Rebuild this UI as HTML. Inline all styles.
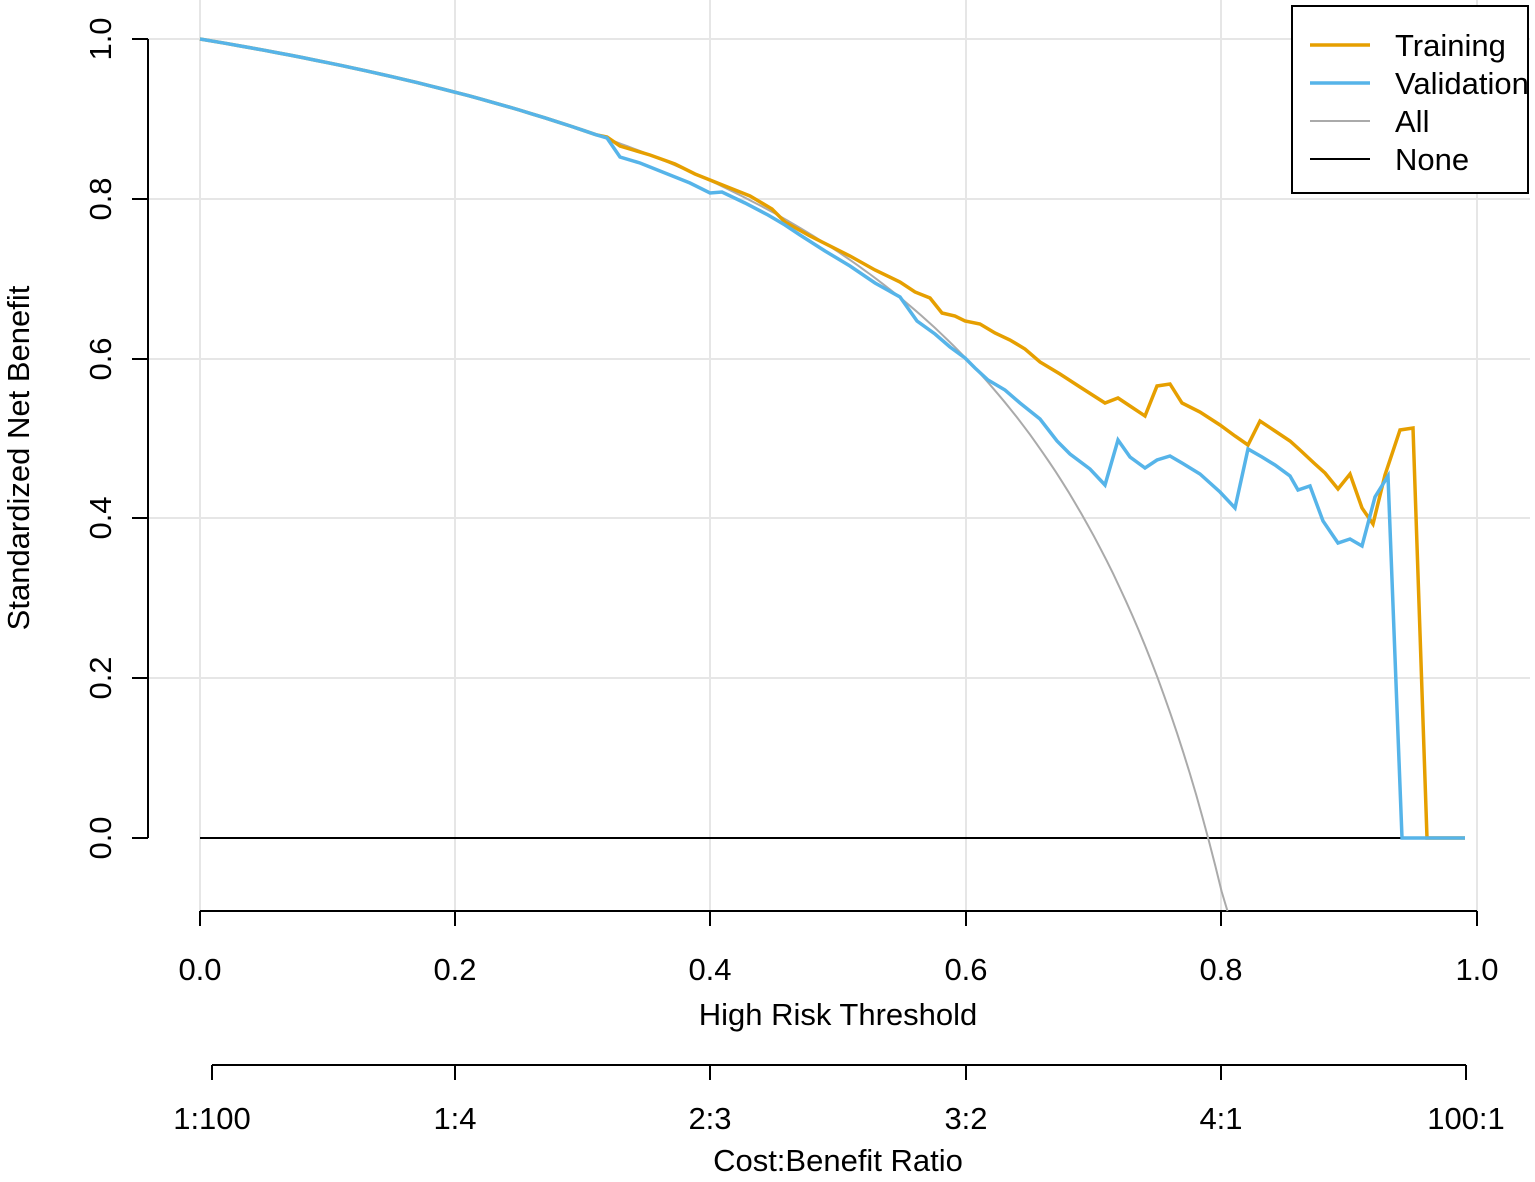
<!DOCTYPE html>
<html><head><meta charset="utf-8"><style>
body{margin:0;background:#fff}
svg text{font-family:"Liberation Sans",Arial,sans-serif;font-size:31px;fill:#000}
</style></head><body>
<svg id="s" width="1535" height="1177" xmlns="http://www.w3.org/2000/svg">
<g stroke="#e6e6e6" stroke-width="2">
<line x1="148" x2="1530" y1="39" y2="39"/><line x1="148" x2="1530" y1="199" y2="199"/>
<line x1="148" x2="1530" y1="359" y2="359"/><line x1="148" x2="1530" y1="518" y2="518"/>
<line x1="148" x2="1530" y1="678" y2="678"/>
<line x1="200" x2="200" y1="0" y2="911"/><line x1="455" x2="455" y1="0" y2="911"/>
<line x1="710" x2="710" y1="0" y2="911"/><line x1="966" x2="966" y1="0" y2="911"/>
<line x1="1221" x2="1221" y1="0" y2="911"/><line x1="1477" x2="1477" y1="0" y2="911"/>
</g>
<g stroke="#000" stroke-width="2" fill="none">
<line x1="148" x2="148" y1="39" y2="838"/>
<line x1="132" x2="148" y1="39" y2="39"/><line x1="132" x2="148" y1="199" y2="199"/>
<line x1="132" x2="148" y1="359" y2="359"/><line x1="132" x2="148" y1="518" y2="518"/>
<line x1="132" x2="148" y1="678" y2="678"/><line x1="132" x2="148" y1="838" y2="838"/>
<line x1="200" x2="1477" y1="911" y2="911"/>
<line x1="200" x2="200" y1="911" y2="926"/><line x1="455" x2="455" y1="911" y2="926"/>
<line x1="710" x2="710" y1="911" y2="926"/><line x1="966" x2="966" y1="911" y2="926"/>
<line x1="1221" x2="1221" y1="911" y2="926"/><line x1="1477" x2="1477" y1="911" y2="926"/>
<line x1="212" x2="1466" y1="1065" y2="1065"/>
<line x1="212" x2="212" y1="1065" y2="1080"/><line x1="455" x2="455" y1="1065" y2="1080"/>
<line x1="710" x2="710" y1="1065" y2="1080"/><line x1="966" x2="966" y1="1065" y2="1080"/>
<line x1="1221" x2="1221" y1="1065" y2="1080"/><line x1="1466" x2="1466" y1="1065" y2="1080"/>
<line x1="200" x2="1465" y1="838" y2="838"/>
</g>
<polyline id="all" fill="none" stroke="#aaaaaa" stroke-width="2"/>
<polyline id="tr" fill="none" stroke="#E69F00" stroke-width="3.5"/>
<polyline id="va" fill="none" stroke="#56B4E9" stroke-width="3.5"/>
<g text-anchor="middle">
<text transform="translate(111,39) rotate(-90)">1.0</text>
<text transform="translate(111,199) rotate(-90)">0.8</text>
<text transform="translate(111,359) rotate(-90)">0.6</text>
<text transform="translate(111,518) rotate(-90)">0.4</text>
<text transform="translate(111,678) rotate(-90)">0.2</text>
<text transform="translate(111,838) rotate(-90)">0.0</text>
<text transform="translate(29,458) rotate(-90)">Standardized Net Benefit</text>
<text x="200" y="980">0.0</text><text x="455" y="980">0.2</text><text x="710" y="980">0.4</text>
<text x="966" y="980">0.6</text><text x="1221" y="980">0.8</text><text x="1477" y="980">1.0</text>
<text x="838" y="1025">High Risk Threshold</text>
<text x="212" y="1129">1:100</text><text x="455" y="1129">1:4</text><text x="710" y="1129">2:3</text>
<text x="966" y="1129">3:2</text><text x="1221" y="1129">4:1</text><text x="1466" y="1129">100:1</text>
<text x="838" y="1171">Cost:Benefit Ratio</text>
</g>
<rect x="1292" y="6" width="236" height="187" fill="#fff" stroke="#000" stroke-width="2"/>
<line x1="1310" x2="1370" y1="45" y2="45" stroke="#E69F00" stroke-width="3.5"/>
<line x1="1310" x2="1370" y1="83" y2="83" stroke="#56B4E9" stroke-width="3.5"/>
<line x1="1310" x2="1370" y1="121" y2="121" stroke="#aaaaaa" stroke-width="2"/>
<line x1="1310" x2="1370" y1="159" y2="159" stroke="#000" stroke-width="2"/>
<text x="1395" y="56">Training</text><text x="1395" y="94">Validation</text>
<text x="1395" y="132">All</text><text x="1395" y="170">None</text>
</svg>
<script>
var k=0.2667;function Y(t){return 838-799*(1-k*t/(1-t));}function X(t){return 200+1277*t;}
var a=[];for(var t=0;t<=0.806;t+=0.005){var y=Y(t);if(y>911){a.push(X(0.8046)+","+911);break;}a.push(X(t).toFixed(1)+","+y.toFixed(1));}
document.getElementById('all').setAttribute('points',a.join(' '));
var base=[];for(var t=0;t<0.32;t+=0.01)base.push(X(t).toFixed(1)+","+Y(t).toFixed(1));
var tr="607,137 620,146 650,155 675,164 695,174 710,180 730,188 750,196 772,209 785,222 810,236 850,256 875,270 900,282 915,292 930,298 942,313 955,316 965,321 980,324 995,333 1010,340 1025,349 1040,362 1060,374 1080,387 1105,403 1118,398 1130,406 1145,416 1157,386 1170,384 1182,403 1200,412 1220,425 1235,436 1248,445 1260,421 1275,431 1290,441 1300,450 1315,464 1325,473 1338,489 1350,474 1362,508 1373,524 1385,475 1400,430 1413,428 1427,838 1465,838";
var va="607,138 620,157 640,163 660,171 690,183 710,193 722,192 745,203 768,215 785,225 800,235 825,251 850,266 875,283 900,297 917,321 935,334 950,347 965,358 975,368 988,380 1005,390 1020,403 1040,419 1057,441 1070,454 1090,469 1105,485 1118,440 1130,457 1145,468 1157,460 1170,456 1182,463 1200,474 1220,492 1235,508 1248,449 1262,457 1275,465 1290,476 1298,490 1310,486 1323,521 1338,543 1350,539 1362,546 1375,497 1388,476 1402,838 1465,838";
document.getElementById('tr').setAttribute('points',base.join(' ')+' '+tr);
document.getElementById('va').setAttribute('points',base.join(' ')+' '+va);
</script>
</body></html>
